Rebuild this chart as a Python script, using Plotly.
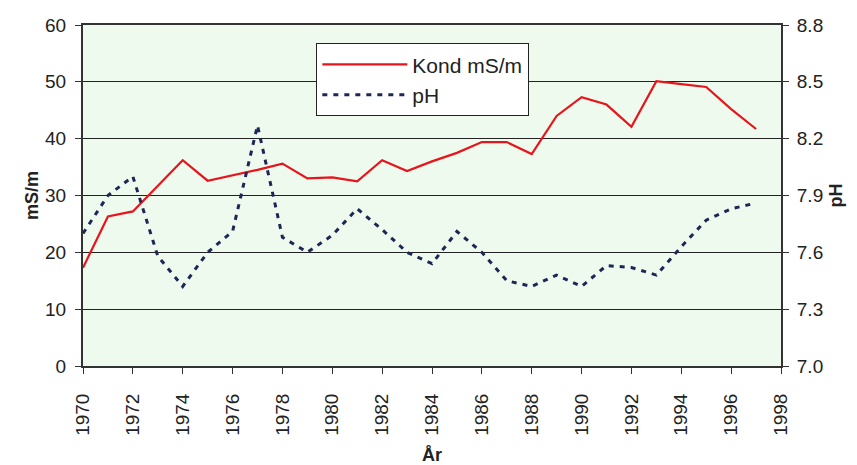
import plotly.graph_objects as go

# -- values ---------------------------------------------------------------
years = list(range(1970, 1998))
kond = [17.3, 26.3, 27.2, 31.7, 36.2, 32.6, 33.5, 34.5, 35.6, 33.0,
        33.2, 32.5, 36.2, 34.3, 36.0, 37.5, 39.4, 39.4, 37.3, 44.0,
        47.3, 46.0, 42.1, 50.1, 49.6, 49.1, 45.2, 41.7]
ph = [7.70, 7.90, 8.00, 7.58, 7.42, 7.60, 7.71, 8.27, 7.68, 7.60,
      7.69, 7.83, 7.72, 7.60, 7.54, 7.71, 7.60, 7.45, 7.42, 7.48,
      7.42, 7.53, 7.52, 7.48, 7.63, 7.77, 7.83, 7.86]

left_ticks = [0, 10, 20, 30, 40, 50, 60]
right_ticks = [7.0, 7.3, 7.6, 7.9, 8.2, 8.5, 8.8]
right_labels = ["7.0", "7.3", "7.6", "7.9", "8.2", "8.5", "8.8"]
x_ticks = list(range(1970, 1999, 2))

font = "Liberation Sans, Arial, sans-serif"

fig = go.Figure()
fig.add_trace(go.Scatter(
    x=years, y=kond, name="Kond mS/m", mode="lines",
    line=dict(color="#e8141c", width=2.2),
))
fig.add_trace(go.Scatter(
    x=years, y=ph, name="pH", mode="lines", yaxis="y2",
    line=dict(color="#1d2757", width=3, dash="5px,6px"),
))

# the page body adds an 8px margin, so the figure is 8px smaller
fig.update_layout(
    width=849, height=457,
    margin=dict(l=75, r=76, t=17, b=99),
    paper_bgcolor="white",
    plot_bgcolor="#eefaee",
    font=dict(family=font, size=19, color="#222"),
    showlegend=True,
    legend=dict(
        x=0.334, y=0.947, xanchor="left", yanchor="top",
        bgcolor="white", bordercolor="#222", borderwidth=1.2,
        font=dict(size=21), itemwidth=85, tracegroupgap=2,
    ),
    xaxis=dict(
        range=[1970, 1998], tickvals=x_ticks, tickangle=-90, automargin=False,
        showgrid=False, zeroline=False,
        showline=True, linecolor="#333", linewidth=2, mirror=True,
        ticks="outside", ticklen=6, tickcolor="#333", ticklabelstandoff=12,
        title=dict(text="<b>År</b>", font=dict(size=18), standoff=14),
    ),
    yaxis=dict(
        range=[0, 60], tickvals=left_ticks, automargin=False,
        showgrid=True, gridcolor="#222", gridwidth=1, zeroline=False,
        showline=True, linecolor="#333", linewidth=2,
        ticks="outside", ticklen=6, tickcolor="#333", ticklabelstandoff=5,
        title=dict(text="<b>mS/m</b>", font=dict(size=18), standoff=2),
    ),
    yaxis2=dict(
        range=[7.0, 8.8], tickvals=right_ticks, ticktext=right_labels,
        overlaying="y", side="right", automargin=False,
        showgrid=False, zeroline=False,
        showline=True, linecolor="#333", linewidth=2,
        ticks="outside", ticklen=6, tickcolor="#333", ticklabelstandoff=4,
        title=dict(text="<b>pH</b>", font=dict(size=18), standoff=7),
    ),
)

fig.write_html("out.html")
